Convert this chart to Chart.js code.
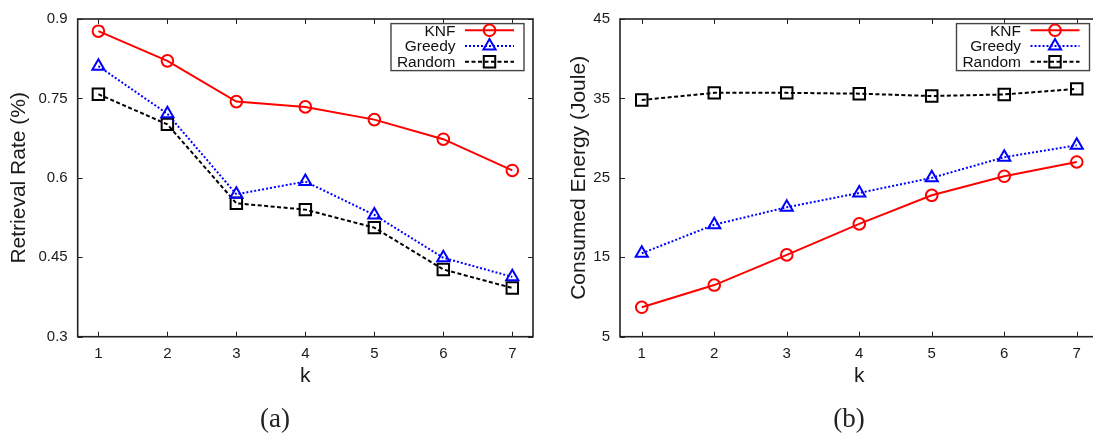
<!DOCTYPE html>
<html lang="en">
<head>
    <meta charset="UTF-8">
    <title>KNF vs Greedy vs Random</title>
    <style>
        body {
            margin: 0;
            padding: 0;
            background: #fff;
            overflow: hidden;
            width: 1093px;
            height: 438px;
            position: relative;
        }
        canvas {
            position: absolute;
            top: 0;
        }
        #rateChart { left: 0; }
        #energyChart { left: 560px; }
        .caption {
            position: absolute;
            top: 403px;
            font-family: "Liberation Serif", serif;
            font-size: 27px;
            color: #222;
            transform: translateX(-50%);
        }
    </style>
</head>
<body>
    <canvas id="rateChart" width="545" height="438"></canvas>
    <canvas id="energyChart" width="560" height="438"></canvas>
    <div class="caption" style="left:275px;">(a)</div>
    <div class="caption" style="left:849px;">(b)</div>

    <script src="https://cdn.jsdelivr.net/npm/chart.js"></script>
    <script>
        const ks = [1, 2, 3, 4, 5, 6, 7];

        const rateKnf = [0.877, 0.821, 0.744, 0.734, 0.710, 0.673, 0.614];
        const rateGreedy = [0.811, 0.721, 0.569, 0.593, 0.530, 0.449, 0.413];
        const rateRandom = [0.758, 0.701, 0.552, 0.540, 0.506, 0.427, 0.392];
        const rateTicks = [0.3, 0.45, 0.6, 0.75, 0.9];

        const energyKnf = [8.7, 11.5, 15.3, 19.2, 22.8, 25.2, 27.0];
        const energyGreedy = [15.5, 19.1, 21.3, 23.1, 25.0, 27.6, 29.1];
        const energyRandom = [34.8, 35.7, 35.7, 35.6, 35.3, 35.5, 36.2];
        const energyTicks = [5, 15, 25, 35, 45];

        const FONT = "'Liberation Sans', Arial, sans-serif";
        Chart.defaults.font.family = FONT;
        Chart.defaults.color = '#1a1a1a';

        // draws an open marker the same way the line datasets do
        function drawMarker(ctx, style, r, x, y) {
            ctx.beginPath();
            if (style === 'circle') {
                ctx.arc(x, y, r, 0, Math.PI * 2);
            } else if (style === 'triangle') {
                for (let i = 0; i < 3; i++) {
                    const a = i * 2 * Math.PI / 3;
                    const px = x + Math.sin(a) * r, py = y - Math.cos(a) * r;
                    if (i === 0) ctx.moveTo(px, py); else ctx.lineTo(px, py);
                }
                ctx.closePath();
            } else {
                const s = Math.SQRT1_2 * r;
                ctx.rect(x - s, y - s, 2 * s, 2 * s);
            }
            ctx.stroke();
        }

        // box around the plot with gnuplot style inward ticks on all sides
        const framePlugin = {
            id: 'frame',
            afterDatasetsDraw(chart) {
                const { ctx, chartArea: a, scales: { x, y } } = chart;
                ctx.save();
                ctx.strokeStyle = '#222';
                ctx.lineWidth = 1;
                ctx.beginPath();
                x.ticks.forEach(t => {
                    const px = Math.round(x.getPixelForValue(t.value)) + 0.5;
                    ctx.moveTo(px, a.bottom); ctx.lineTo(px, a.bottom - 5);
                    ctx.moveTo(px, a.top); ctx.lineTo(px, a.top + 5);
                });
                y.ticks.forEach(t => {
                    const py = Math.round(y.getPixelForValue(t.value)) + 0.5;
                    ctx.moveTo(a.left, py); ctx.lineTo(a.left + 5, py);
                    ctx.moveTo(a.right, py); ctx.lineTo(a.right - 5, py);
                });
                ctx.stroke();
                ctx.lineWidth = 1.6;
                ctx.strokeRect(a.left, a.top, a.right - a.left, a.bottom - a.top);
                ctx.restore();
            }
        };

        // key in the top right corner: label, then line sample with marker
        const keyPlugin = {
            id: 'key',
            afterDraw(chart) {
                const { ctx, chartArea: a } = chart;
                const w = 133, h = 47;
                const left = a.right - 9 - w, top = a.top + 4.6;
                ctx.save();
                ctx.fillStyle = '#fff';
                ctx.fillRect(left, top, w, h);
                ctx.strokeStyle = '#444';
                ctx.lineWidth = 1.4;
                ctx.strokeRect(left, top, w, h);
                ctx.font = '15.5px ' + FONT;
                ctx.textAlign = 'right';
                ctx.textBaseline = 'middle';
                chart.data.datasets.forEach((ds, i) => {
                    const ry = top + 6.7 + i * 15.7;
                    ctx.fillStyle = '#111';
                    ctx.fillText(ds.label, left + 64.5, ry + 1);
                    ctx.strokeStyle = ds.borderColor;
                    ctx.lineWidth = ds.borderWidth;
                    ctx.setLineDash(ds.borderDash || []);
                    ctx.beginPath();
                    ctx.moveTo(left + 74, ry);
                    ctx.lineTo(left + 123, ry);
                    ctx.stroke();
                    ctx.setLineDash([]);
                    drawMarker(ctx, ds.pointStyle, ds.pointRadius, left + 98.5, ry);
                });
                ctx.restore();
            }
        };

        function series(label, values, color, dash, style, radius) {
            return {
                label: label,
                data: ks.map((k, i) => ({ x: k, y: values[i] })),
                borderColor: color,
                borderWidth: 2,
                borderDash: dash,
                pointStyle: style,
                pointRadius: radius,
                pointBorderWidth: 2,
                pointBorderColor: color,
                pointBackgroundColor: 'rgba(0,0,0,0)',
                tension: 0
            };
        }

        function makeChart(id, knf, greedy, random, yTicks, yTitle, yWidth, rightPad) {
            return new Chart(document.getElementById(id), {
                type: 'line',
                data: {
                    datasets: [
                        series('KNF', knf, '#ff0000', [], 'circle', 5.8),
                        series('Greedy', greedy, '#0000ff', [2, 2], 'triangle', 7),
                        series('Random', random, '#000000', [4, 2.5], 'rect', 8.1)
                    ]
                },
                options: {
                    responsive: false,
                    animation: false,
                    layout: { padding: { top: 13.7, right: rightPad, bottom: 0, left: 0 } },
                    plugins: { legend: { display: false }, tooltip: { enabled: false } },
                    scales: {
                        x: {
                            type: 'linear',
                            min: 0.7,
                            max: 7.3,
                            afterBuildTicks: s => { s.ticks = ks.map(v => ({ value: v })); },
                            afterFit: s => { s.height = 438 - 336.7; },
                            grid: { display: false, drawTicks: false },
                            border: { display: false },
                            ticks: { padding: 8, font: { size: 15 }, callback: v => String(v) },
                            title: {
                                display: true,
                                text: 'k',
                                font: { size: 21 },
                                padding: { top: 0, bottom: 49 }
                            }
                        },
                        y: {
                            min: yTicks[0],
                            max: yTicks[yTicks.length - 1],
                            afterBuildTicks: s => { s.ticks = yTicks.map(v => ({ value: v })); },
                            afterFit: s => { s.width = yWidth; },
                            grid: { display: false, drawTicks: false },
                            border: { display: false },
                            ticks: { padding: 10, font: { size: 15 }, callback: v => String(v) },
                            title: {
                                display: true,
                                text: yTitle,
                                font: { size: 21 },
                                padding: { top: 6.5, bottom: 0 }
                            }
                        }
                    }
                },
                plugins: [framePlugin, keyPlugin]
            });
        }

        makeChart('rateChart', rateKnf, rateGreedy, rateRandom, rateTicks,
            'Retrieval Rate (%)', 77.7, 12);
        makeChart('energyChart', energyKnf, energyGreedy, energyRandom, energyTicks,
            'Consumed Energy (Joule)', 60, 21.5);
    </script>
</body>
</html>
